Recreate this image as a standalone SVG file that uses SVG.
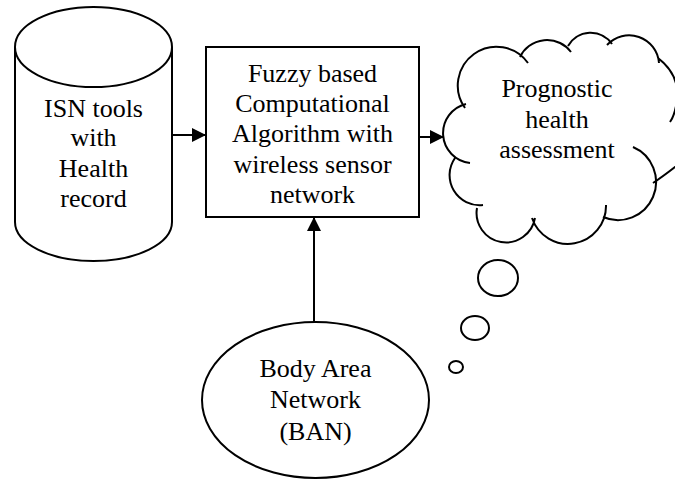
<svg xmlns="http://www.w3.org/2000/svg" width="675" height="481" viewBox="0 0 675 481">
<style>
.s{fill:none;stroke:#000;stroke-width:2}
.w{fill:#fff;stroke:#000;stroke-width:2}
.t{font-family:"Liberation Serif","Times New Roman",serif;font-size:26px;fill:#000;text-anchor:middle}
.c{fill:none;stroke:#000;stroke-width:2}
</style>
<defs>
<marker id="ah" markerUnits="userSpaceOnUse" markerWidth="14" markerHeight="14" refX="14" refY="7" orient="auto">
<path d="M0,0 L14,7 L0,14 z" fill="#000"/>
</marker>
</defs>
<rect width="675" height="481" fill="#fff"/>
<g id="isn-tools">
<path class="w" d="M15,47 V222 A78.5,39 0 0 0 172,222 V47"/>
<ellipse class="w" cx="93.5" cy="47" rx="78.5" ry="40"/>
<text class="t" x="93.5" y="117">ISN tools</text>
<text class="t" x="93.5" y="146">with</text>
<text class="t" x="93.5" y="177">Health</text>
<text class="t" x="93.5" y="207">record</text>
</g>
<g id="fuzzy-algorithm">
<rect class="w" x="206" y="47" width="213" height="170"/>
<text class="t" x="312.5" y="82">Fuzzy based</text>
<text class="t" x="312.5" y="112">Computational</text>
<text class="t" x="312.5" y="142">Algorithm with</text>
<text class="t" x="312.5" y="173">wireless sensor</text>
<text class="t" x="312.5" y="203">network</text>
</g>
<g id="prognostic-health">
<path class="s" d="M470,163 A30,30 0 0 1 466,104 M465,108 A38,38 0 0 1 528,63 M520,57 A30,30 0 0 1 571,52 M568,46 A26,26 0 0 1 612,44 M607,45 A30,30 0 0 1 659,63 M658,58 Q680,75 677,100 Q675,115 670,122 M653,183 Q668,173 690,155 M633,147 A38,38 0 0 1 603,217 M606,205 A38,38 0 0 1 532,218 M535,218 A29,29 0 0 1 477,208 M483,205 A30,30 0 0 1 455,158"/>
<text class="t" x="557" y="97">Prognostic</text>
<text class="t" x="557" y="128">health</text>
<text class="t" x="557" y="158">assessment</text>
<ellipse class="c" cx="498" cy="278" rx="20" ry="18"/>
<ellipse class="c" cx="475" cy="328" rx="14" ry="12"/>
<ellipse class="c" cx="456" cy="367" rx="7" ry="6"/>
</g>
<g id="ban">
<ellipse class="w" cx="315.5" cy="400" rx="113.5" ry="78"/>
<text class="t" x="315.5" y="377">Body Area</text>
<text class="t" x="315.5" y="408">Network</text>
<text class="t" x="315.5" y="440">(BAN)</text>
</g>
<g id="connectors">
<line class="s" x1="172" y1="135" x2="206" y2="135" marker-end="url(#ah)"/>
<line class="s" x1="419" y1="137" x2="444" y2="137" marker-end="url(#ah)"/>
<line class="s" x1="314" y1="322" x2="314" y2="217" marker-end="url(#ah)"/>
</g>
</svg>
